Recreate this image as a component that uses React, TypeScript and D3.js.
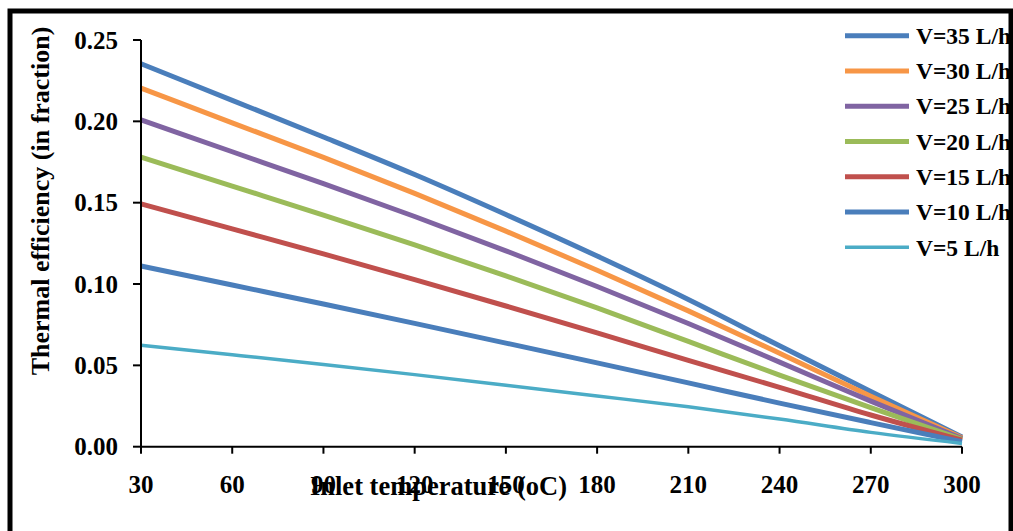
import React from "react";
import * as d3 from "d3";

const temperatures = [30, 60, 90, 120, 150, 180, 210, 240, 270, 300];
const seriesNames = ["V=35 L/h", "V=30 L/h", "V=25 L/h", "V=20 L/h", "V=15 L/h", "V=10 L/h", "V=5 L/h"];
const v35 = [0.2354, 0.2129, 0.1904, 0.1673, 0.1427, 0.1172, 0.0905, 0.062, 0.034, 0.006];
const v30 = [0.2204, 0.1991, 0.1778, 0.1557, 0.1325, 0.1085, 0.0835, 0.0575, 0.031, 0.0055];
const v25 = [0.2009, 0.1813, 0.1617, 0.1415, 0.1204, 0.0985, 0.0757, 0.052, 0.028, 0.005];
const v20 = [0.178, 0.1602, 0.1424, 0.124, 0.105, 0.0853, 0.0647, 0.044, 0.024, 0.0045];
const v15 = [0.1493, 0.1339, 0.1185, 0.1027, 0.0865, 0.07, 0.053, 0.0365, 0.0195, 0.004];
const v10 = [0.1111, 0.0994, 0.0877, 0.0758, 0.0637, 0.0515, 0.0392, 0.0268, 0.0148, 0.003];
const v5 = [0.0624, 0.0565, 0.0505, 0.0443, 0.0378, 0.0312, 0.0245, 0.017, 0.0088, 0.002];
const xTicks = [30, 60, 90, 120, 150, 180, 210, 240, 270, 300];
const yTicks = [0, 0.05, 0.1, 0.15, 0.2, 0.25];

const seriesValues = [v35, v30, v25, v20, v15, v10, v5];
const colors = ["#4a7ebb", "#f79646", "#8064a2", "#9bbb59", "#c0504d", "#4a7ebb", "#4bacc6"];
const widths = [5, 5, 5, 5, 5, 5, 3.5];

const FONT = "'Liberation Serif', 'Times New Roman', serif";

export default function App() {
  const x = d3.scaleLinear().domain([30, 300]).range([141, 962]);
  const y = d3.scaleLinear().domain([0, 0.25]).range([446.7, 40]);
  const line = d3
    .line<number>()
    .x((_, i) => x(temperatures[i]))
    .y((d) => y(d))
    .curve(d3.curveMonotoneX);

  const legendY0 = 35.7;
  const legendStep = 35.27;

  return (
    <svg
      width={1013}
      height={531}
      style={{ position: "absolute", left: 0, top: 0, background: "#fff" }}
      fontFamily={FONT}
      fontWeight="bold"
    >
      <rect x={0} y={0} width={1013} height={531} fill="#fff" />
      {seriesValues.map((vals, i) => (
        <path
          key={seriesNames[i]}
          d={line(vals) || ""}
          fill="none"
          stroke={colors[i]}
          strokeWidth={widths[i]}
          strokeLinejoin="round"
        />
      ))}
      <line x1={x(30)} x2={x(300)} y1={y(0)} y2={y(0)} stroke="#000" strokeWidth={2} />
      <line x1={x(30)} x2={x(30)} y1={y(0)} y2={y(0.25)} stroke="#000" strokeWidth={2} />
      {yTicks.map((t) => (
        <g key={"y" + t}>
          <line x1={x(30) - 8} x2={x(30)} y1={y(t)} y2={y(t)} stroke="#000" strokeWidth={2} />
          <text x={118} y={y(t)} dy="0.35em" textAnchor="end" fontSize={25}>
            {t.toFixed(2)}
          </text>
        </g>
      ))}
      {xTicks.map((t) => (
        <g key={"x" + t}>
          <line x1={x(t)} x2={x(t)} y1={y(0)} y2={y(0) + 7} stroke="#000" strokeWidth={2} />
          <text x={x(t)} y={493} textAnchor="middle" fontSize={25}>
            {t}
          </text>
        </g>
      ))}
      <text transform={`translate(49,201) rotate(-90)`} textAnchor="middle" fontSize={26}>
        Thermal efficiency (in fraction)
      </text>
      <text x={438.5} y={495} textAnchor="middle" fontSize={26.5}>
        Inlet temperature (oC)
      </text>
      {seriesNames.map((name, i) => (
        <g key={"lg" + name}>
          <line
            x1={845}
            x2={909}
            y1={legendY0 + i * legendStep}
            y2={legendY0 + i * legendStep}
            stroke={colors[i]}
            strokeWidth={widths[i]}
          />
          <text x={916} y={legendY0 + i * legendStep} dy="0.35em" fontSize={23.5}>
            {name}
          </text>
        </g>
      ))}
      <rect x={10} y={11} width={1001} height={540} fill="none" stroke="#000" strokeWidth={5} />
    </svg>
  );
}
